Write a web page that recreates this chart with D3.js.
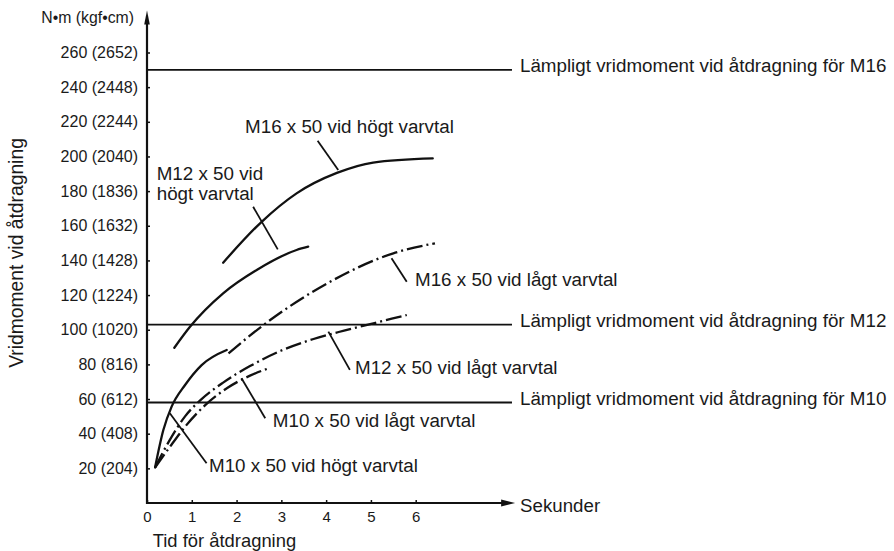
<!DOCTYPE html>
<html>
<head>
<meta charset="utf-8">
<script src="https://cdn.jsdelivr.net/npm/d3@7"></script>
<style>
  html, body { margin: 0; padding: 0; background: #fff; }
  svg { display: block; font-family: "Liberation Sans", Arial, Helvetica, sans-serif; }
  text { fill: #1a1a1a; }
</style>
</head>
<body>
<svg id="chart" width="894" height="551"></svg>
<script>
// ---- data ----
const xTicks = [0, 1, 2, 3, 4, 5, 6];
const yTicks = [20, 40, 60, 80, 100, 120, 140, 160, 180, 200, 220, 240, 260];
const yTickLabels = ["20 (204)", "40 (408)", "60 (612)", "80 (816)", "100 (1020)", "120 (1224)",
  "140 (1428)", "160 (1632)", "180 (1836)", "200 (2040)", "220 (2244)", "240 (2448)", "260 (2652)"];
const yUnitLabel = "N\u2022m (kgf\u2022cm)";
const yTitle = "Vridmoment vid åtdragning";
const xTitle = "Tid för åtdragning";
const xUnit = "Sekunder";

// recommended tightening torque (N·m)
const refNames = ["Lämpligt vridmoment vid åtdragning för M16",
                  "Lämpligt vridmoment vid åtdragning för M12",
                  "Lämpligt vridmoment vid åtdragning för M10"];
const refValues = [250, 103, 58];

// curves: time (s) and torque (N·m)
const m16HighT = [1.70, 2.56, 3.34, 4.24, 5.05, 6.38];
const m16HighV = [138.7, 162.3, 178.7, 190.5, 196.5, 198.9];
const m12HighT = [0.61, 0.96, 1.70, 2.45, 3.34, 3.60];
const m12HighV = [89.6, 101.7, 121.0, 134.5, 146.0, 147.9];
const m10HighT = [0.18, 0.365, 0.55, 0.85, 1.22, 1.78];
const m10HighV = [20.5, 42.1, 55.6, 68.1, 79.6, 88.3];
const m16LowT = [1.82, 2.60, 4.09, 5.50, 6.43];
const m16LowV = [86.4, 102.7, 127.7, 144.1, 149.9];
const m12LowT = [0.18, 0.5, 0.85, 1.2, 1.7, 2.3, 3.0, 3.7, 4.4, 5.1, 5.8];
const m12LowV = [20.5, 36, 50, 59.5, 69.5, 79, 88, 94.5, 99.5, 104, 108.5];
const m10LowT = [0.18, 0.5, 0.85, 1.3, 1.8, 2.3, 2.71];
const m10LowV = [20.5, 32, 44, 56.5, 66.5, 73.5, 77.7];

// annotation labels: text lines, anchor (t, v), leader line from (t1,v1) to (t2,v2)
const annoText = [["M16 x 50 vid högt varvtal"], ["M12 x 50 vid", "högt varvtal"],
  ["M16 x 50 vid lågt varvtal"], ["M12 x 50 vid lågt varvtal"],
  ["M10 x 50 vid lågt varvtal"], ["M10 x 50 vid högt varvtal"]];
const annoAt = [[2.19, 213.4], [0.217, 186.4], [5.985, 125.2], [4.645, 74.5], [2.81, 44.0], [1.385, 18.1]];
const leaders = [[3.81, 209.1, 4.27, 192.2], [2.37, 171.0, 2.92, 146.4], [5.46, 141.2, 5.80, 127.7],
  [4.05, 98.9, 4.53, 76.8], [2.11, 72.0, 2.64, 48.9], [0.51, 51.8, 1.33, 22.9]];

// ---- drawing ----
const svg = d3.select("#chart");
const x = d3.scaleLinear().domain([0, 6]).range([147, 415.7]);
const y = d3.scaleLinear().domain([0, 260]).range([503, 52.5]);
const ink = "#111";

svg.append("rect").attr("width", 894).attr("height", 551).attr("fill", "#fff");

// reference lines
const xRefEnd = 8.15;
refValues.forEach((v, i) => {
  svg.append("line").attr("x1", x(-0.02)).attr("x2", x(xRefEnd))
    .attr("y1", y(v)).attr("y2", y(v)).attr("stroke", ink).attr("stroke-width", 1.8);
  svg.append("text").attr("x", x(xRefEnd) + 8).attr("y", y(v) + 2.5)
    .attr("font-size", 18.8).text(refNames[i]);
});

// axes
const yAxis = d3.axisLeft(y).tickValues(yTicks).tickSize(-3).tickFormat((d, i) => yTickLabels[i]).tickPadding(9);
const gy = svg.append("g").attr("transform", `translate(${x(0)},0)`).call(yAxis);
gy.select(".domain").remove();
gy.selectAll(".tick line").attr("stroke", ink).attr("stroke-width", 1.5);
gy.selectAll(".tick text").attr("font-size", 16).attr("fill", "#1a1a1a").attr("font-family", "Liberation Sans, Arial, sans-serif");

const xAxis = d3.axisBottom(x).tickValues(xTicks).tickSize(-3).tickPadding(8).tickFormat(d3.format("d"));
const gx = svg.append("g").attr("transform", `translate(0,${y(0)})`).call(xAxis);
gx.select(".domain").remove();
gx.selectAll(".tick line").attr("stroke", ink).attr("stroke-width", 1.5);
gx.selectAll(".tick text").attr("font-size", 15).attr("fill", "#1a1a1a").attr("font-family", "Liberation Sans, Arial, sans-serif");

// axis lines with arrows
const xEnd = 8.22;
svg.append("line").attr("x1", x(0) - 1).attr("x2", x(xEnd) - 8).attr("y1", y(0)).attr("y2", y(0))
  .attr("stroke", ink).attr("stroke-width", 2.2);
svg.append("path")
  .attr("d", `M${x(xEnd)},${y(0)} L${x(xEnd) - 14},${y(0) - 3.5} L${x(xEnd) - 14},${y(0) + 3.5} Z`)
  .attr("fill", ink);
const yTop = 282;
svg.append("line").attr("x1", x(0)).attr("x2", x(0)).attr("y1", y(0) + 1).attr("y2", y(yTop) + 6)
  .attr("stroke", ink).attr("stroke-width", 2.2);
svg.append("path")
  .attr("d", `M${x(0)},${y(yTop) - 4} L${x(0) - 2.8},${y(yTop) + 10} L${x(0) + 2.8},${y(yTop) + 10} Z`)
  .attr("fill", ink);

// axis titles
svg.append("text").attr("x", x(0) - 13).attr("y", 22.5).attr("text-anchor", "end")
  .attr("font-size", 15.8).text(yUnitLabel);
svg.append("text").attr("transform", `translate(23,253) rotate(-90)`).attr("text-anchor", "middle")
  .attr("font-size", 19.3).text(yTitle);
svg.append("text").attr("x", x(xEnd) + 5).attr("y", y(0) + 8.5).attr("font-size", 18.7).text(xUnit);
svg.append("text").attr("x", 152.7).attr("y", 547).attr("font-size", 18.4).text(xTitle);

// curves
const line = d3.line().x(d => x(d[0])).y(d => y(d[1])).curve(d3.curveMonotoneX);
const zip = (t, v) => t.map((d, i) => [d, v[i]]);
const solid = [[m16HighT, m16HighV], [m12HighT, m12HighV], [m10HighT, m10HighV]];
const dashed = [[m16LowT, m16LowV], [m12LowT, m12LowV], [m10LowT, m10LowV]];
solid.forEach(([t, v]) => {
  svg.append("path").attr("d", line(zip(t, v))).attr("fill", "none")
    .attr("stroke", ink).attr("stroke-width", 2.3).attr("stroke-linecap", "round");
});
dashed.forEach(([t, v]) => {
  svg.append("path").attr("d", line(zip(t, v))).attr("fill", "none")
    .attr("stroke", ink).attr("stroke-width", 2.3).attr("stroke-dasharray", "16,4,2,4");
});

// leader lines and annotations
leaders.forEach(l => {
  svg.append("line").attr("x1", x(l[0])).attr("y1", y(l[1])).attr("x2", x(l[2])).attr("y2", y(l[3]))
    .attr("stroke", ink).attr("stroke-width", 1.8);
});
annoText.forEach((lines, i) => {
  const t = svg.append("text").attr("font-size", 18.8);
  lines.forEach((s, j) => {
    t.append("tspan").attr("x", x(annoAt[i][0])).attr("y", y(annoAt[i][1]) + j * 19.5).text(s);
  });
});
</script>
</body>
</html>
